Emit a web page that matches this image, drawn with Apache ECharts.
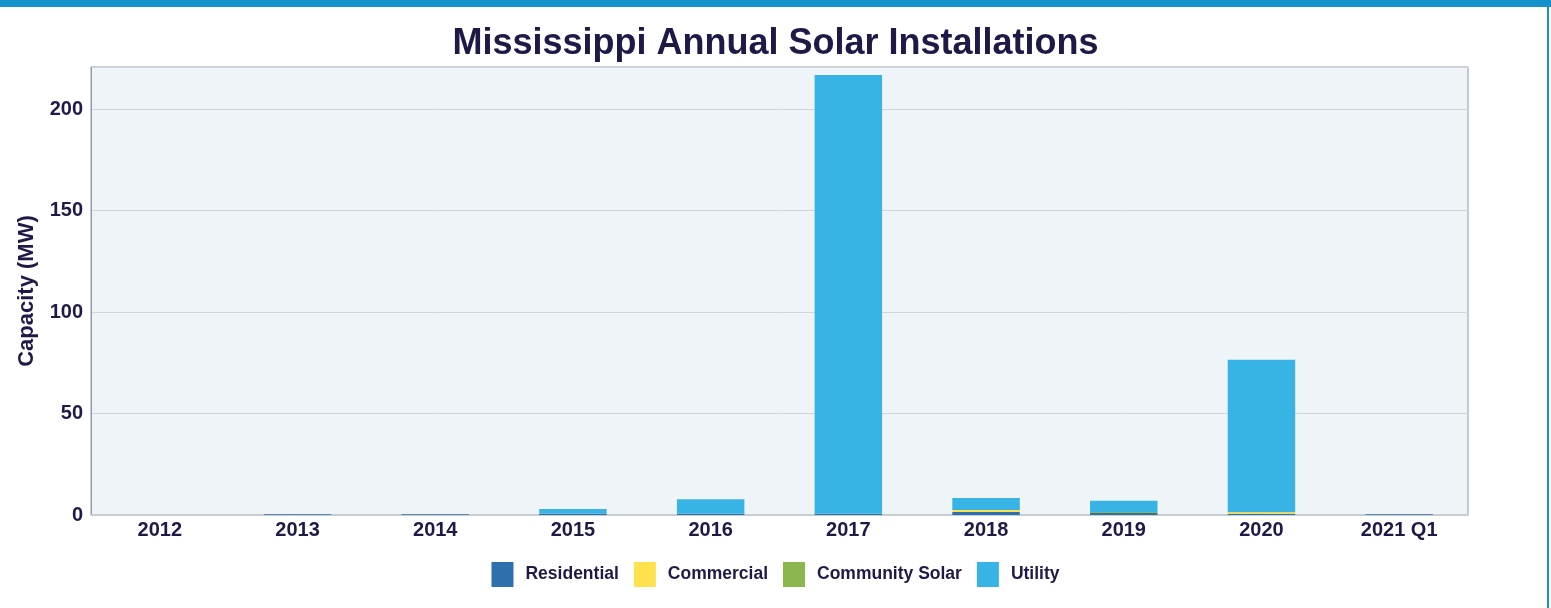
<!DOCTYPE html>
<html>
<head>
<meta charset="utf-8">
<script src="https://cdn.jsdelivr.net/npm/echarts@6/dist/echarts.min.js"></script>
<style>
html,body{margin:0;padding:0;background:#fff;}
#wrap{position:relative;width:1551px;height:608px;overflow:hidden;}
#topbar{position:absolute;left:0;top:0;width:1551px;height:7px;background:#1591CC;}
#rightbar{position:absolute;left:1547px;top:0;width:2px;height:608px;background:#1591CC;}
#chart{position:absolute;left:0;top:0;width:1551px;height:608px;}
</style>
</head>
<body>
<div id="wrap">
<div id="chart"></div>
<div id="topbar"></div>
<div id="rightbar"></div>
</div>
<script>
const categories = ['2012','2013','2014','2015','2016','2017','2018','2019','2020','2021 Q1'];
const residential = [0, 0.4, 0.4, 0.6, 0.6, 0.6, 1.5, 1.0, 0.6, 0.4];
const commercial  = [0, 0, 0, 0, 0, 0, 1.0, 0, 0.7, 0];
const community   = [0, 0, 0, 0, 0, 0, 0, 0.5, 0.2, 0];
const utility     = [0, 0, 0, 2.3, 7.2, 216.2, 5.9, 5.5, 75.0, 0];
const seriesNames = ['Residential','Commercial','Community Solar','Utility'];
const colors = ['#2E6FAE','#FFE04D','#8BB74F','#38B3E6'];
const textColor = '#1E1A48';
const font = 'Liberation Sans, Arial, sans-serif';

const chart = echarts.init(document.getElementById('chart'), null, {renderer:'canvas'});
const data = [residential, commercial, community, utility];
chart.setOption({
  animation:false,
  textStyle:{fontFamily:font},
  title:{text:'Mississippi Annual Solar Installations', left:'center', top:21,
    textStyle:{fontSize:36, fontWeight:'bold', color:textColor, fontFamily:font}},
  grid:{left:91, right:83, top:67, bottom:93, show:true, backgroundColor:'#EEF4F7', borderColor:'#8E9CAB', borderWidth:1},
  legend:{bottom:16, left:'center', itemWidth:22, itemHeight:25, itemGap:15,
    icon:'rect', textStyle:{fontSize:17.5, fontWeight:'bold', color:textColor, fontFamily:font, padding:[0,0,0,7]}},
  xAxis:{type:'category', data:categories,
    axisLine:{show:true, lineStyle:{color:'#C8CDD2', width:2}},
    axisTick:{show:false},
    axisLabel:{fontSize:20, fontWeight:'bold', color:textColor, margin:5, fontFamily:font}},
  yAxis:{type:'value', min:0, max:220.7, interval:50,
    name:'Capacity (MW)', nameLocation:'middle', nameGap:53,
    nameTextStyle:{fontSize:22, fontWeight:'bold', color:textColor, fontFamily:font},
    axisLine:{show:true, lineStyle:{color:'#8E9CAB'}},
    axisTick:{show:false},
    axisLabel:{fontSize:20, fontWeight:'bold', color:textColor, margin:8, showMaxLabel:false, fontFamily:font},
    splitLine:{lineStyle:{color:'#D0D6DC'}}},
  series: seriesNames.map((n,i)=>({
    name:n, type:'bar', stack:'total', barWidth:'49%',
    itemStyle:{color:colors[i]}, data:data[i]
  }))
});
</script>
</body>
</html>
